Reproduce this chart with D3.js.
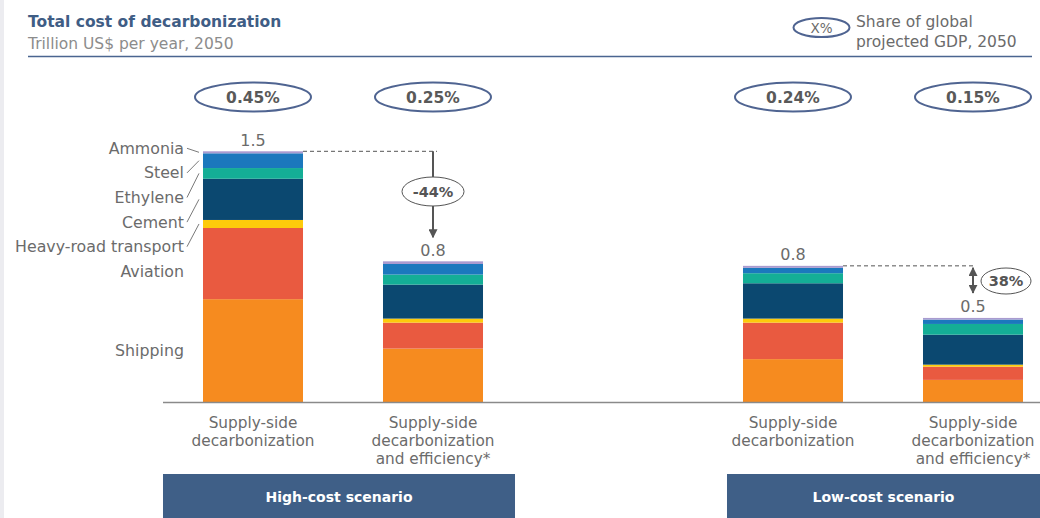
<!DOCTYPE html>
<html>
<head>
<meta charset="utf-8">
<script src="https://cdn.jsdelivr.net/npm/d3@7"></script>
<style>
  html, body { margin: 0; padding: 0; background: #fff; }
  svg { display: block; font-family: "DejaVu Sans", sans-serif; }
</style>
</head>
<body>
<svg id="chart" width="1040" height="518"></svg>
<script>
// Bars, left to right (one empty slot separates the two scenarios)
const barKeys = ["high-supply", "high-efficiency", "gap", "low-supply", "low-efficiency"];
const barLabels = [
  ["Supply-side", "decarbonization"],
  ["Supply-side", "decarbonization", "and efficiency*"],
  [],
  ["Supply-side", "decarbonization"],
  ["Supply-side", "decarbonization", "and efficiency*"]
];
const scenarios = ["High-cost scenario", "Low-cost scenario"];

// Sectors, stacked bottom to top
const sectors = ["Shipping", "Aviation", "Heavy-road transport", "Cement", "Ethylene", "Steel", "Ammonia"];
const sectorColors = ["#f68b1f", "#e95a40", "#fdcb0b", "#0b4870", "#14ae96", "#1b78bd", "#a99bd0"];

// Trillion US$ per year, 2050 (per bar; gap slot is empty)
const shipping  = [0.617, 0.322, null, 0.259, 0.135];
const aviation  = [0.425, 0.155, null, 0.218, 0.079];
const heavyRoad = [0.048, 0.024, null, 0.024, 0.012];
const cement    = [0.246, 0.203, null, 0.211, 0.179];
const ethylene  = [0.064, 0.060, null, 0.060, 0.064];
const steel     = [0.088, 0.063, null, 0.032, 0.026];
const ammonia   = [0.012, 0.016, null, 0.012, 0.010];

// Share of global projected GDP, 2050
const gdpShare = [0.0045, 0.0025, null, 0.0024, 0.0015];

const yTicks = [0, 1.5];

const seriesValues = [shipping, aviation, heavyRoad, cement, ethylene, steel, ammonia];

const rows = barKeys.map((k, i) => {
  const r = { key: k };
  sectors.forEach((s, j) => { r[s] = seriesValues[j][i] || 0; });
  return r;
});
const totals = barKeys.map((k, i) => seriesValues.reduce((a, s) => a + (s[i] || 0), 0));

const svg = d3.select("#chart");

const x = d3.scaleBand()
  .domain(barKeys)
  .range([163, 1063])
  .paddingInner(0.4444)
  .paddingOuter(0.2222);

const y = d3.scaleLinear()
  .domain(d3.extent(yTicks))
  .range([402.5, 151.3]);

const grey = "#6b6b6b";
const dark = "#555555";
const frame = "#4f6491";

// faint page edge
svg.append("rect").attr("x", 0).attr("y", 0).attr("width", 4).attr("height", 518).attr("fill", "#ececf0");

// ----- header -----
svg.append("text").attr("x", 28).attr("y", 27)
  .attr("font-size", 15.5).attr("font-weight", "bold").attr("fill", "#3f5d85")
  .text("Total cost of decarbonization");
svg.append("text").attr("x", 28).attr("y", 48.5)
  .attr("font-size", 15.5).attr("fill", "#8c8c8c")
  .text("Trillion US$ per year, 2050");
svg.append("line").attr("x1", 28).attr("x2", 1032).attr("y1", 56.5).attr("y2", 56.5)
  .attr("stroke", "#4a6590").attr("stroke-width", 1.5);

// legend for the GDP ellipses
svg.append("ellipse").attr("cx", 821.5).attr("cy", 27.5).attr("rx", 28).attr("ry", 9.5)
  .attr("fill", "none").attr("stroke", frame).attr("stroke-width", 2);
svg.append("text").attr("x", 821.5).attr("y", 32.5).attr("text-anchor", "middle")
  .attr("font-size", 13.5).attr("fill", grey).text("X%");
svg.append("text").attr("x", 856).attr("y", 27).attr("font-size", 15.5).attr("fill", grey)
  .text("Share of global");
svg.append("text").attr("x", 856).attr("y", 46.5).attr("font-size", 15.5).attr("fill", grey)
  .text("projected GDP, 2050");

// ----- stacked bars -----
const stack = d3.stack().keys(sectors);
const layers = stack(rows.filter(r => r.key !== "gap"));

svg.append("g").selectAll("g")
  .data(layers)
  .join("g")
  .attr("fill", (d, i) => sectorColors[i])
  .selectAll("rect")
  .data(d => d)
  .join("rect")
  .attr("x", d => x(d.data.key))
  .attr("width", x.bandwidth())
  .attr("y", d => y(d[1]))
  .attr("height", d => y(d[0]) - y(d[1]));

// baseline
svg.append("line")
  .attr("x1", x.range()[0]).attr("x2", 1040)
  .attr("y1", y(0)).attr("y2", y(0))
  .attr("stroke", "#8a8a8a").attr("stroke-width", 1.5);

// total labels above bars
const fmt = d3.format(".1f");
barKeys.forEach((k, i) => {
  if (k === "gap") return;
  svg.append("text")
    .attr("x", x(k) + x.bandwidth() / 2)
    .attr("y", y(totals[i]) - 5.5)
    .attr("text-anchor", "middle").attr("font-size", 16).attr("fill", grey)
    .text(fmt(totals[i]));
});

// GDP share ellipses
const pct = d3.format(".2%");
barKeys.forEach((k, i) => {
  if (gdpShare[i] == null) return;
  const cx = x(k) + x.bandwidth() / 2;
  svg.append("ellipse").attr("cx", cx).attr("cy", 97).attr("rx", 58).attr("ry", 14.5)
    .attr("fill", "none").attr("stroke", frame).attr("stroke-width", 2);
  svg.append("text").attr("x", cx).attr("y", 102.5).attr("text-anchor", "middle")
    .attr("font-size", 15.5).attr("font-weight", "bold").attr("fill", "#595959")
    .text(pct(gdpShare[i]));
});

// category labels
barKeys.forEach((k, i) => {
  const t = svg.append("text").attr("text-anchor", "middle").attr("font-size", 15.3).attr("fill", grey);
  barLabels[i].forEach((line, j) => {
    t.append("tspan").attr("x", x(k) + x.bandwidth() / 2).attr("y", 427.5 + j * 18).text(line);
  });
});

// sector labels on the first bar, top to bottom
const first = layers.map(l => l[0]);
const labelStep = 24.6;
let prevY = null;
const bx = x(barKeys[0]);
for (let j = sectors.length - 1; j >= 0; j--) {
  const seg = first[j];
  const mid = (y(seg[0]) + y(seg[1])) / 2;
  const ly = prevY == null ? y(seg[1]) - 3 : Math.max(mid, prevY + labelStep);
  prevY = ly;
  svg.append("text").attr("x", bx - 19).attr("y", ly + 5.5)
    .attr("text-anchor", "end").attr("font-size", 15.8).attr("fill", grey)
    .text(sectors[j]);
  if (Math.abs(mid - ly) > 3 && j >= 2) {
    svg.append("line")
      .attr("x1", bx - 16).attr("y1", ly)
      .attr("x2", bx - 4).attr("y2", mid)
      .attr("stroke", "#7a7a7a").attr("stroke-width", 1);
  }
}

// arrowhead marker
const defs = svg.append("defs");
defs.append("marker").attr("id", "head").attr("viewBox", "0 0 10 10")
  .attr("refX", 9).attr("refY", 5).attr("markerWidth", 4.5).attr("markerHeight", 4.5)
  .attr("orient", "auto-start-reverse")
  .append("path").attr("d", "M0,0 L10,5 L0,10 Z").attr("fill", dark);

// change within high-cost scenario
{
  const xa = x(barKeys[1]) + x.bandwidth() / 2;
  const y0 = y(totals[0]);
  const change = (totals[1] - totals[0]) / totals[0];
  svg.append("line").attr("x1", x(barKeys[0]) + x.bandwidth()).attr("x2", xa + 4)
    .attr("y1", y0).attr("y2", y0)
    .attr("stroke", dark).attr("stroke-dasharray", "4,3").attr("stroke-width", 1);
  const ecy = 191.5, ery = 14.5;
  svg.append("line").attr("x1", xa).attr("x2", xa).attr("y1", y0).attr("y2", ecy - ery)
    .attr("stroke", dark).attr("stroke-width", 2);
  svg.append("line").attr("x1", xa).attr("x2", xa).attr("y1", ecy + ery).attr("y2", y(totals[1]) - 24)
    .attr("stroke", dark).attr("stroke-width", 2).attr("marker-end", "url(#head)");
  svg.append("ellipse").attr("cx", xa).attr("cy", ecy).attr("rx", 31).attr("ry", ery)
    .attr("fill", "#fff").attr("stroke", dark).attr("stroke-width", 1);
  svg.append("text").attr("x", xa).attr("y", ecy + 5).attr("text-anchor", "middle")
    .attr("font-size", 14.5).attr("font-weight", "bold").attr("fill", dark)
    .text(d3.format(".0%")(change).replace("−", "-"));
}

// change within low-cost scenario
{
  const xa = x(barKeys[4]) + x.bandwidth() / 2;
  const y0 = y(totals[3]);
  const change = (totals[3] - totals[4]) / totals[3];
  svg.append("line").attr("x1", x(barKeys[3]) + x.bandwidth()).attr("x2", xa)
    .attr("y1", y0).attr("y2", y0)
    .attr("stroke", dark).attr("stroke-dasharray", "4,3").attr("stroke-width", 1);
  svg.append("line").attr("x1", xa).attr("x2", xa).attr("y1", y0 + 2).attr("y2", y(totals[4]) - 25)
    .attr("stroke", dark).attr("stroke-width", 2)
    .attr("marker-start", "url(#head)").attr("marker-end", "url(#head)");
  svg.append("ellipse").attr("cx", xa + 33).attr("cy", 281).attr("rx", 25).attr("ry", 13)
    .attr("fill", "#fff").attr("stroke", dark).attr("stroke-width", 1);
  svg.append("text").attr("x", xa + 33).attr("y", 286).attr("text-anchor", "middle")
    .attr("font-size", 14.5).attr("font-weight", "bold").attr("fill", dark)
    .text(d3.format(".0%")(change));
}

// scenario banners
const banners = [
  { x0: x(barKeys[0]) - 40, x1: x(barKeys[1]) + x.bandwidth() + 32 },
  { x0: x(barKeys[3]) - 16, x1: 1040 }
];
banners.forEach((b, i) => {
  svg.append("rect").attr("x", b.x0).attr("y", 474).attr("width", b.x1 - b.x0).attr("height", 44)
    .attr("fill", "#3f5f87");
  svg.append("text").attr("x", (b.x0 + b.x1) / 2).attr("y", 502)
    .attr("text-anchor", "middle").attr("font-size", 14).attr("font-weight", "bold").attr("fill", "#fff")
    .text(scenarios[i]);
});
</script>
</body>
</html>
